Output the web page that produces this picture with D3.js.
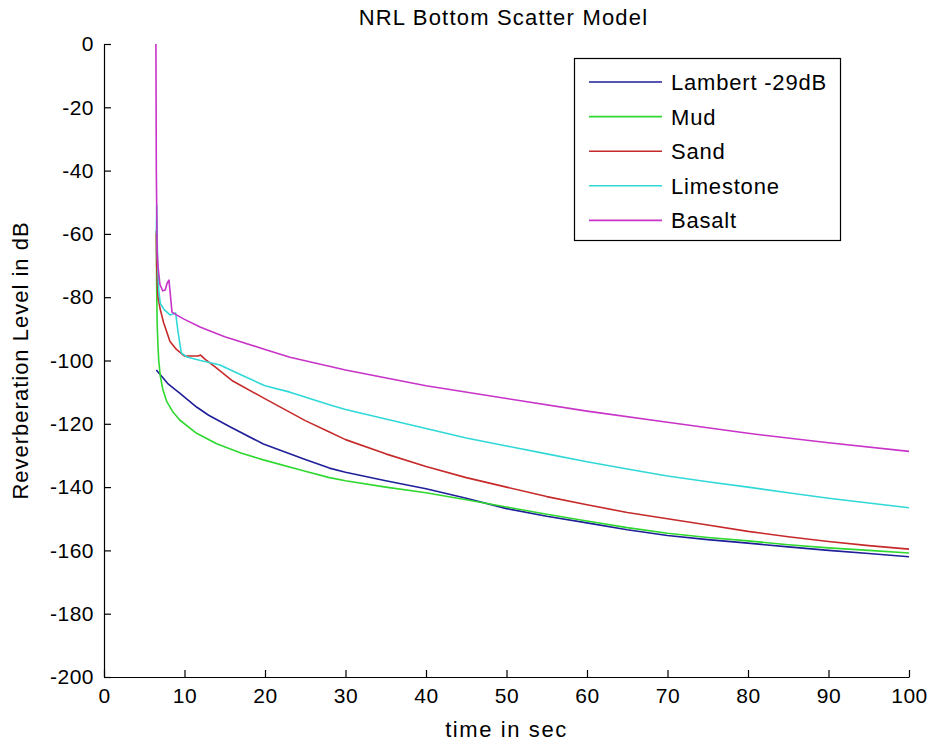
<!DOCTYPE html>
<html>
<head>
<meta charset="utf-8">
<script src="https://cdn.jsdelivr.net/npm/d3@7"></script>
<style>
  html, body { margin: 0; padding: 0; background: #fff; }
  svg { display: block; }
  text { font-family: "Liberation Sans", Arial, Helvetica, sans-serif; fill: #000; }
</style>
</head>
<body>
<svg id="chart" width="930" height="745"></svg>
<script>
// ---------------- data ----------------
const chartTitle = "NRL Bottom Scatter Model";
const xLabel = "time in sec";
const yLabel = "Reverberation Level in dB";

const xTicks = [0, 10, 20, 30, 40, 50, 60, 70, 80, 90, 100];
const yTicks = [0, -20, -40, -60, -80, -100, -120, -140, -160, -180, -200];

const seriesNames = ["Lambert -29dB", "Mud", "Sand", "Limestone", "Basalt"];

const lambertTime = [6.5, 7, 8, 9.4, 11.5, 13, 15.7, 19.8, 25, 28, 30, 35, 40, 45, 50, 55, 60, 65, 70, 75, 80, 85, 90, 95, 100];
const lambertDb   = [-103, -104.5, -107.5, -110.3, -114.7, -117.3, -121, -126.4, -131.3, -134, -135.3, -138, -140.5, -143.5, -146.8, -149.2, -151.3, -153.5, -155.3, -156.6, -157.7, -158.9, -160, -161, -162];

const mudTime = [6.5, 6.55, 6.6, 6.7, 6.8, 7.0, 7.3, 7.8, 8.5, 9.4, 11.5, 14, 17, 19.8, 25, 28, 30, 35, 40, 45, 50, 55, 60, 65, 70, 75, 80, 85, 90, 95, 100];
const mudDb   = [-60, -78, -88, -95, -100, -105, -109, -113, -116, -118.8, -123, -126.3, -129.2, -131.4, -135, -137, -138, -140, -141.8, -144, -146.3, -148.6, -150.7, -152.8, -154.6, -155.9, -157, -158.2, -159.2, -160, -160.8];

const sandTime = [6.5, 6.55, 6.7, 7.0, 7.4, 8.2, 9, 10, 11.7, 12.0, 12.5, 13.8, 16, 19.8, 25, 28, 30, 35, 40, 45, 50, 55, 60, 65, 70, 75, 80, 85, 90, 95, 100];
const sandDb   = [-59, -70, -80, -84, -88, -94, -96.5, -98.6, -98.6, -98.3, -99.5, -102, -106.5, -111.8, -119, -122.6, -125, -129.5, -133.5, -137, -140, -143, -145.6, -148, -150, -152, -154, -155.7, -157.2, -158.5, -159.6];

const limestoneTime = [6.5, 6.55, 6.65, 6.8, 7.0, 7.5, 8.2, 8.9, 9.2, 9.6, 10.3, 12, 14.4, 17, 20, 23.1, 28, 30, 35, 40, 45, 50, 55, 60, 65, 70, 75, 80, 85, 90, 95, 100];
const limestoneDb   = [-60, -51, -68, -78, -82, -84, -85.6, -85, -91, -97.6, -98.9, -100, -101.4, -104.5, -108, -110, -114, -115.5, -118.5, -121.5, -124.5, -127, -129.5, -132, -134.3, -136.5, -138.3, -140, -141.8, -143.5, -145, -146.5];

const basaltTime = [6.45, 6.5, 6.6, 6.7, 6.95, 7.3, 7.6, 7.85, 8.07, 8.45, 9, 10, 12, 15, 20, 23.1, 30, 40, 50, 60, 70, 80, 90, 100];
const basaltDb   = [0, -40, -65, -70, -76, -78, -77.7, -75.5, -74.6, -84.7, -85.6, -87, -89.5, -92.5, -96.5, -99, -103, -108, -112, -116, -119.5, -123, -126, -128.7];

const seriesColors = ["#1f1f9a", "#2fd82f", "#c62a2a", "#30d8d8", "#c833c8"];

// ---------------- chart ----------------
const svg = d3.select("#chart");
const margin = { left: 104, right: 21, top: 44, bottom: 68 };
const W = 930, H = 745;

const x = d3.scaleLinear().domain([0, 100]).range([margin.left, W - margin.right]);
const y = d3.scaleLinear().domain([-200, 0]).range([H - margin.bottom, margin.top]);

svg.append("rect").attr("width", W).attr("height", H).attr("fill", "#fff");

const fmt = d => String(d);

const xAxis = svg.append("g")
  .attr("transform", `translate(0,${y(-200)})`)
  .call(d3.axisBottom(x).tickValues(xTicks).tickFormat(fmt).tickSizeInner(-7).tickSizeOuter(0).tickPadding(11));
const yAxis = svg.append("g")
  .attr("transform", `translate(${x(0)},0)`)
  .call(d3.axisLeft(y).tickValues(yTicks).tickFormat(fmt).tickSizeInner(-7).tickSizeOuter(0).tickPadding(10));

[xAxis, yAxis].forEach(g => {
  g.selectAll("path, line").attr("stroke", "#000").attr("stroke-width", 1.2);
  g.selectAll("text").style("font-size", "21px").attr("fill", "#000")
    .style("font-family", '"Liberation Sans", Arial, sans-serif')
    .style("letter-spacing", "0.5px");
});

// series
const series = [
  { time: lambertTime, db: lambertDb },
  { time: mudTime, db: mudDb },
  { time: sandTime, db: sandDb },
  { time: limestoneTime, db: limestoneDb },
  { time: basaltTime, db: basaltDb }
];

const line = d3.line().x(d => x(d[0])).y(d => y(d[1]));

series.forEach((s, i) => {
  const pts = s.time.map((t, k) => [t, s.db[k]]);
  svg.append("path")
    .datum(pts)
    .attr("fill", "none")
    .attr("stroke", seriesColors[i])
    .attr("stroke-width", 1.6)
    .attr("stroke-linejoin", "round")
    .attr("d", line);
});

// title & labels
svg.append("text")
  .attr("x", (x(0) + x(100)) / 2 - 3).attr("y", 25)
  .attr("text-anchor", "middle").style("font-size", "22px").style("letter-spacing", "1.2px")
  .text(chartTitle);

svg.append("text")
  .attr("x", (x(0) + x(100)) / 2).attr("y", 737)
  .attr("text-anchor", "middle").style("font-size", "22px").style("letter-spacing", "1.6px")
  .text(xLabel);

svg.append("text")
  .attr("transform", `translate(28,${(y(0) + y(-200)) / 2}) rotate(-90)`)
  .attr("text-anchor", "middle").style("font-size", "22px").style("letter-spacing", "1px")
  .text(yLabel);

// legend
const lg = svg.append("g");
lg.append("rect")
  .attr("x", 574.5).attr("y", 58.5).attr("width", 266).attr("height", 182)
  .attr("fill", "#fff").attr("stroke", "#000").attr("stroke-width", 1.2);

seriesNames.forEach((name, i) => {
  const cy = 82 + i * 34.6;
  lg.append("line")
    .attr("x1", 589).attr("x2", 662).attr("y1", cy).attr("y2", cy)
    .attr("stroke", seriesColors[i]).attr("stroke-width", 1.6);
  lg.append("text")
    .attr("x", 671).attr("y", cy + 8)
    .style("font-size", "22px").style("letter-spacing", "0.8px")
    .text(name);
});
</script>
</body>
</html>
